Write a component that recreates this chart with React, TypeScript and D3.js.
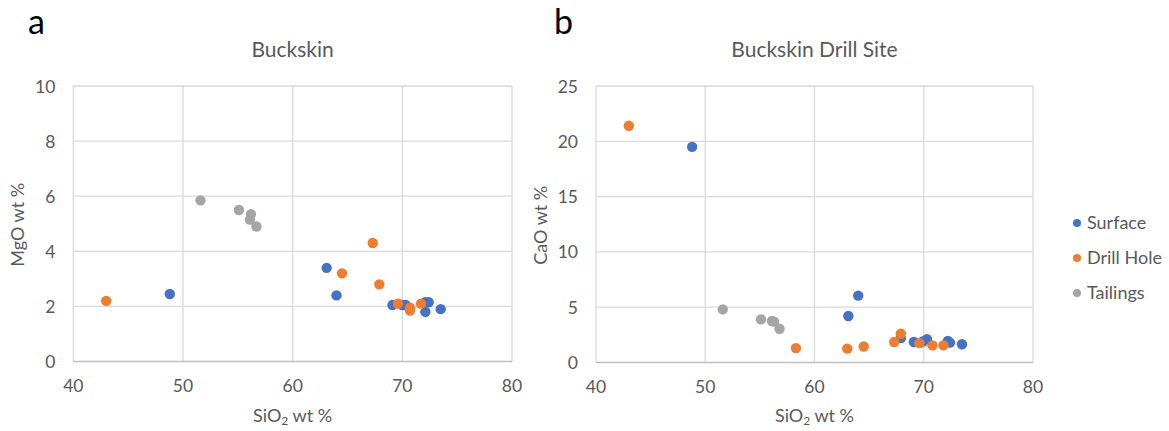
import React from 'react';
import * as d3 from 'd3';

type Pt = [number, number];

// panel a: SiO2 vs MgO
const surfaceMgO: Pt[] = [[48.8, 2.45], [63.1, 3.4], [64.0, 2.4], [69.1, 2.05], [70.0, 2.05], [70.3, 2.05], [72.1, 2.15], [72.4, 2.15], [72.1, 1.8], [73.5, 1.9]];
const drillMgO: Pt[] = [[43.0, 2.2], [64.5, 3.2], [67.3, 4.3], [67.9, 2.8], [69.6, 2.1], [70.7, 1.95], [70.7, 1.85], [71.7, 2.1]];
const tailingsMgO: Pt[] = [[51.6, 5.85], [55.1, 5.5], [56.2, 5.35], [56.1, 5.15], [56.7, 4.9]];

// panel b: SiO2 vs CaO
const surfaceCaO: Pt[] = [[48.8, 19.5], [63.1, 4.2], [64.0, 6.05], [67.9, 2.2], [69.1, 1.85], [69.9, 1.9], [70.3, 2.1], [72.2, 1.95], [72.4, 1.8], [73.5, 1.65]];
const drillCaO: Pt[] = [[43.0, 21.4], [58.3, 1.3], [63.0, 1.25], [64.5, 1.45], [67.3, 1.85], [67.9, 2.6], [69.6, 1.75], [70.8, 1.55], [71.8, 1.55]];
const tailingsCaO: Pt[] = [[51.6, 4.8], [55.1, 3.9], [56.1, 3.75], [56.3, 3.7], [56.8, 3.05]];

const seriesNames = ['Surface', 'Drill Hole', 'Tailings'];
const colors = ['#4472C4', '#ED7D31', '#A5A5A5'];
const xTicks = [40, 50, 60, 70, 80];
const mgoTicks = [0, 2, 4, 6, 8, 10];
const caoTicks = [0, 5, 10, 15, 20, 25];

const FONT = 'Lato, "Open Sans", sans-serif';
const TXT = '#595959';
const GRID = '#D9D9D9';

interface PanelProps {
  letter: string;
  title: string;
  yLabel: string;
  yTicks: number[];
  series: Pt[][];
  x0: number;
  x1: number;
  y0: number;
  y1: number;
  letterX: number;
}

const Panel: React.FC<PanelProps> = ({ letter, title, yLabel, yTicks, series, x0, x1, y0, y1, letterX }) => {
  const x = d3.scaleLinear().domain([40, 80]).range([x0, x1]);
  const y = d3.scaleLinear().domain([0, yTicks[yTicks.length - 1]]).range([y1, y0]);
  const cx = (x0 + x1) / 2;
  const cy = (y0 + y1) / 2;
  return (
    <g fontFamily={FONT}>
      <text x={letterX} y={34} fontSize={34} fill="#000">{letter}</text>
      <text x={cx} y={57} fontSize={21} fill={TXT} textAnchor="middle">{title}</text>
      {xTicks.map(t => (
        <line key={'gx' + t} x1={x(t)} x2={x(t)} y1={y0} y2={y1} stroke={GRID} strokeWidth={1.3} />
      ))}
      {yTicks.map(t => (
        <line key={'gy' + t} x1={x0} x2={x1} y1={y(t)} y2={y(t)} stroke={t === 0 ? '#BFBFBF' : GRID} strokeWidth={1.3} />
      ))}
      {yTicks.map(t => (
        <text key={'ty' + t} x={x0 - 18} y={y(t) + 6.5} fontSize={17.5} fill={TXT} textAnchor="end">{t}</text>
      ))}
      {xTicks.map(t => (
        <text key={'tx' + t} x={x(t)} y={y1 + 30.5} fontSize={17.5} fill={TXT} textAnchor="middle">{t}</text>
      ))}
      <text x={cx} y={410 + 12} fontSize={18} fill={TXT} textAnchor="middle">
        SiO<tspan fontSize={12} dy={3}>2</tspan><tspan dy={-3}> wt %</tspan>
      </text>
      <text transform={`translate(${x0 - 49},${cy + 1}) rotate(-90)`} fontSize={18} fill={TXT} textAnchor="middle">{yLabel}</text>
      {series.map((pts, i) => (
        <g key={'s' + i}>
          {pts.map((p, j) => (
            <circle key={j} cx={x(p[0])} cy={y(p[1])} r={5.2} fill={colors[i]} />
          ))}
        </g>
      ))}
    </g>
  );
};

const App: React.FC = () => {
  return (
    <svg width={1169} height={431} style={{ position: 'absolute', left: 0, top: 0, background: '#fff' }}>
      <Panel letter="a" title="Buckskin" yLabel="MgO wt %" yTicks={mgoTicks}
        series={[surfaceMgO, drillMgO, tailingsMgO]} x0={73.3} x1={512} y0={86} y1={361.5} letterX={28} />
      <Panel letter="b" title="Buckskin Drill Site" yLabel="CaO wt %" yTicks={caoTicks}
        series={[surfaceCaO, drillCaO, tailingsCaO]} x0={596} x1={1033} y0={86} y1={362.5} letterX={554} />
      <g fontFamily={FONT}>
        {seriesNames.map((name, i) => (
          <g key={name}>
            <circle cx={1077} cy={223 + i * 35} r={4} fill={colors[i]} />
            <text x={1087} y={223 + i * 35 + 6} fontSize={18} fill={TXT}>{name}</text>
          </g>
        ))}
      </g>
    </svg>
  );
};

export default App;
